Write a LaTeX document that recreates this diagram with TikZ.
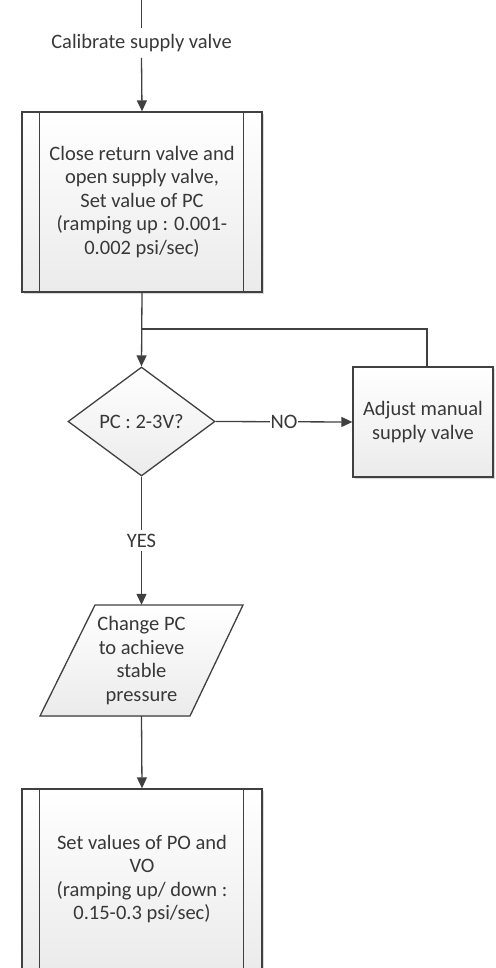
\documentclass[tikz,border=0pt]{standalone}
\usepackage{fontspec}
\setmainfont{Carlito}
\usetikzlibrary{arrows.meta,shapes.geometric,shadows}
\definecolor{linec}{HTML}{404040}
\definecolor{textc}{HTML}{383838}
\definecolor{shadeb}{HTML}{EBEBEB}
\tikzset{
  flowline/.style={draw=linec, line width=1.3pt},
  flowarrow/.style={flowline, -{Triangle[length=11pt,width=10pt]}},
  shadefill/.style={top color=white, bottom color=shadeb, draw=linec, line width=1.3pt},
  boxshade/.style={shadefill,
    drop shadow={shadow xshift=2pt, shadow yshift=-2pt, opacity=0.15, fill=black}},
  proc/.style={boxshade, rectangle, minimum width=240pt, minimum height=180pt, inner sep=0pt, align=center},
  plainbox/.style={boxshade, rectangle, minimum width=140pt, minimum height=110pt, inner sep=0pt, align=center},
  decision/.style={shadefill, diamond, minimum width=147pt, minimum height=109pt, inner sep=0pt, align=center},
  lbl/.style={text=textc, align=center},
  every node/.style={text=textc, font=\fontsize{20.5}{23.5}\selectfont},
}
\begin{document}
\begin{tikzpicture}[x=1pt,y=-1pt]
\useasboundingbox (0,0) rectangle (495,968);

% entry line with its caption
\coordinate (start) at (141.5,0);
\node[lbl, inner sep=6pt] (cal) at (141.5,43) {Calibrate supply valve};

% first predefined process
\node[proc] (b1) at (142,202) {Close return valve and\\open supply valve,\\Set value of PC\\(ramping up : 0.001-\\0.002 psi/sec)};
\draw[flowline] ([xshift=18pt]b1.north west) -- ([xshift=18pt]b1.south west);
\draw[flowline] ([xshift=-19pt]b1.north east) -- ([xshift=-19pt]b1.south east);

% decision and manual adjustment
\node[decision] (dia) at (141.5,421.5) {PC : 2-3V?};
\node[plainbox] (b2) at (423,422) {Adjust manual\\supply valve};
\coordinate (join) at (141.5,329);

% parallelogram (data step)
\fill[top color=white, bottom color=shadeb] (95,605) -- (243,605) -- (190,716) -- (40,716) -- cycle;
\draw[flowline, line join=miter] (95,605) -- (243,605) -- (190,716) -- (40,716) -- cycle;
\node[lbl, minimum height=111pt, inner sep=0pt] (pg) at (141.5,660.5) {Change PC\\to achieve\\stable\\pressure};

% second predefined process
\node[proc] (b3) at (142,879) {Set values of PO and\\VO\\(ramping up/ down :\\0.15-0.3 psi/sec)};
\draw[flowline] ([xshift=18pt]b3.north west) -- ([xshift=18pt]b3.south west);
\draw[flowline] ([xshift=-19pt]b3.north east) -- ([xshift=-19pt]b3.south east);

% connectors
\draw[flowline] (start) -- (cal.north);
\draw[flowarrow] (cal.south) -- (b1.north);
\draw[flowarrow] (b1.south) -- (dia.north);
\draw[flowline] ([xshift=4pt]b2.north) |- (join);
\draw[flowarrow] (dia.east) -- node[fill=white, inner sep=1pt] {NO} (b2.west);
\draw[flowarrow] (dia.south) -- node[fill=white, inner sep=4pt] {YES} (pg.north);
\draw[flowarrow] (pg.south) -- (b3.north);
\end{tikzpicture}
\end{document}
